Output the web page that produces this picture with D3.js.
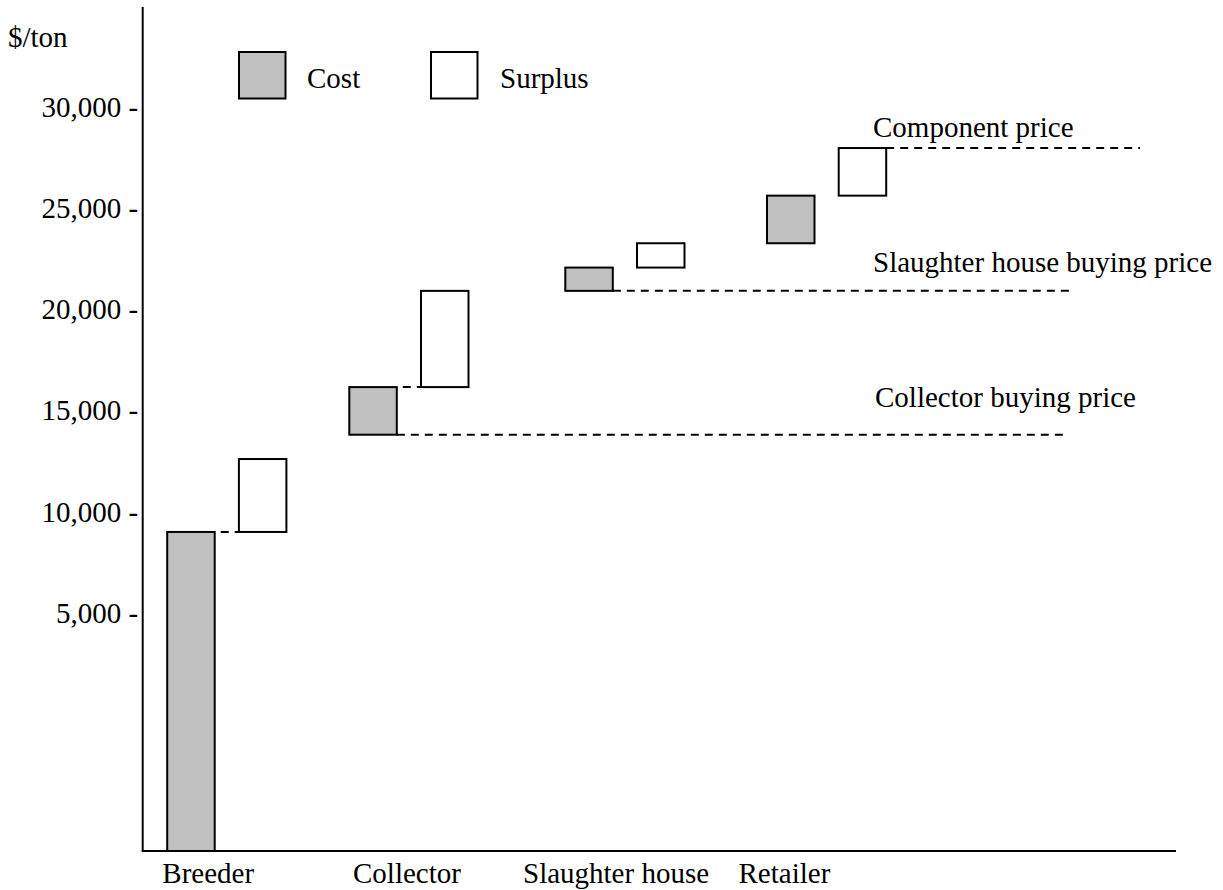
<!DOCTYPE html>
<html>
<head>
<meta charset="utf-8">
<script src="https://cdn.jsdelivr.net/npm/d3@7"></script>
<style>
  html, body { margin: 0; padding: 0; background: #fff; }
  svg { display: block; font-family: "Liberation Serif", "Times New Roman", serif; }
</style>
</head>
<body>
<svg id="chart" width="1223" height="890"></svg>
<script>
// ---------- data ----------
const stages = ["Breeder", "Collector", "Slaughter house", "Retailer"];
// cost segment: start value (null = from the axis baseline) and end value ($/ton)
const costStart = [null, 13800, 20900, 23250];
const costEnd = [9000, 16150, 22050, 25600];
// surplus segment
const surplusStart = [9000, 16150, 22050, 25600];
const surplusEnd = [12600, 20900, 23250, 27950];
// y tick values
const tickValues = [5000, 10000, 15000, 20000, 25000, 30000];
// short connectors between cost top and surplus bottom
const connectorStages = ["Breeder", "Collector"];
const connectorValues = [9000, 16150];
// reference price lines
const priceNames = ["Collector buying price", "Slaughter house buying price", "Component price"];
const priceValues = [13800, 20900, 27950];
const priceFromStage = ["Collector", "Slaughter house", "Retailer"]; // start at this stage's block
const priceFromKind = ["cost", "cost", "surplus"];
const legendItems = ["Cost", "Surplus"];
const yUnit = "$/ton";

// ---------- layout ----------
const W = 1223, H = 890;
const axisX = 142.7, axisTop = 7, axisBottom = 851, axisRight = 1176;
const fontSize = 29;
const barW = 47.5;
const surplusOffset = 71.7;
const priceLineEnds = [1067, 1070, 1140];
const priceLabelX = [875, 873, 873];
const priceLabelDy = [-27.5, -19, -11];

const svg = d3.select("#chart");

const y = d3.scaleLinear().domain([0, 30000]).range([714.3, 106.5]);
const x = d3.scaleOrdinal().domain(stages).range([167.2, 349.3, 565.3, 767]);
const xLabel = d3.scaleOrdinal().domain(stages).range([162.3, 353, 523, 738.5]);

// axes lines
svg.append("line")
  .attr("x1", axisX).attr("x2", axisX)
  .attr("y1", axisTop).attr("y2", axisBottom)
  .attr("stroke", "#000").attr("stroke-width", 2);
svg.append("line")
  .attr("x1", axisX - 1).attr("x2", axisRight)
  .attr("y1", axisBottom).attr("y2", axisBottom)
  .attr("stroke", "#000").attr("stroke-width", 2);

// y axis tick labels via d3 axis
const yAxis = d3.axisLeft(y)
  .tickValues(tickValues)
  .tickSize(0)
  .tickPadding(4.5)
  .tickFormat(d => d3.format(",")(d) + " -");
const gy = svg.append("g").attr("transform", `translate(${axisX},0)`).call(yAxis);
gy.select(".domain").remove();
gy.selectAll("text")
  .attr("font-family", "'Liberation Serif', serif")
  .attr("font-size", fontSize)
  .attr("fill", "#000")
  .attr("dy", "0.33em");

// unit label
svg.append("text")
  .attr("x", 8).attr("y", 46.5)
  .attr("font-size", fontSize)
  .text(yUnit);

// category labels
svg.selectAll("text.cat")
  .data(stages)
  .join("text")
  .attr("class", "cat")
  .attr("x", d => xLabel(d))
  .attr("y", 883)
  .attr("font-size", fontSize)
  .text(d => d);

// price reference lines
const dash = "8,6";
priceNames.forEach((name, i) => {
  const st = priceFromStage[i];
  const x0 = x(st) + (priceFromKind[i] === "surplus" ? surplusOffset : 0) + barW;
  svg.append("line")
    .attr("x1", x0).attr("x2", priceLineEnds[i])
    .attr("y1", y(priceValues[i])).attr("y2", y(priceValues[i]))
    .attr("stroke", "#000").attr("stroke-width", 2)
    .attr("stroke-dasharray", dash);
  svg.append("text")
    .attr("x", priceLabelX[i])
    .attr("y", y(priceValues[i]) + priceLabelDy[i])
    .attr("font-size", fontSize)
    .text(name);
});

// connectors
connectorStages.forEach((st, i) => {
  svg.append("line")
    .attr("x1", x(st) + barW).attr("x2", x(st) + surplusOffset)
    .attr("y1", y(connectorValues[i])).attr("y2", y(connectorValues[i]))
    .attr("stroke", "#000").attr("stroke-width", 2)
    .attr("stroke-dasharray", dash)
    .attr("stroke-dashoffset", -6);
});

// cost bars
svg.selectAll("rect.cost")
  .data(stages)
  .join("rect")
  .attr("class", "cost")
  .attr("x", d => x(d))
  .attr("y", (d, i) => y(costEnd[i]))
  .attr("width", barW)
  .attr("height", (d, i) => (costStart[i] === null ? axisBottom : y(costStart[i])) - y(costEnd[i]))
  .attr("fill", "#c0c0c0")
  .attr("stroke", "#000")
  .attr("stroke-width", 2);

// surplus bars
svg.selectAll("rect.surplus")
  .data(stages)
  .join("rect")
  .attr("class", "surplus")
  .attr("x", d => x(d) + surplusOffset)
  .attr("y", (d, i) => y(surplusEnd[i]))
  .attr("width", barW)
  .attr("height", (d, i) => y(surplusStart[i]) - y(surplusEnd[i]))
  .attr("fill", "#fff")
  .attr("stroke", "#000")
  .attr("stroke-width", 2);

// legend
const legendBoxX = [239, 431];
const legendTextX = [307, 500];
const legendFill = ["#c0c0c0", "#fff"];
legendItems.forEach((name, i) => {
  svg.append("rect")
    .attr("x", legendBoxX[i]).attr("y", 52)
    .attr("width", 46.5).attr("height", 46.5)
    .attr("fill", legendFill[i])
    .attr("stroke", "#000").attr("stroke-width", 2);
  svg.append("text")
    .attr("x", legendTextX[i]).attr("y", 88)
    .attr("font-size", fontSize)
    .text(name);
});
</script>
</body>
</html>
